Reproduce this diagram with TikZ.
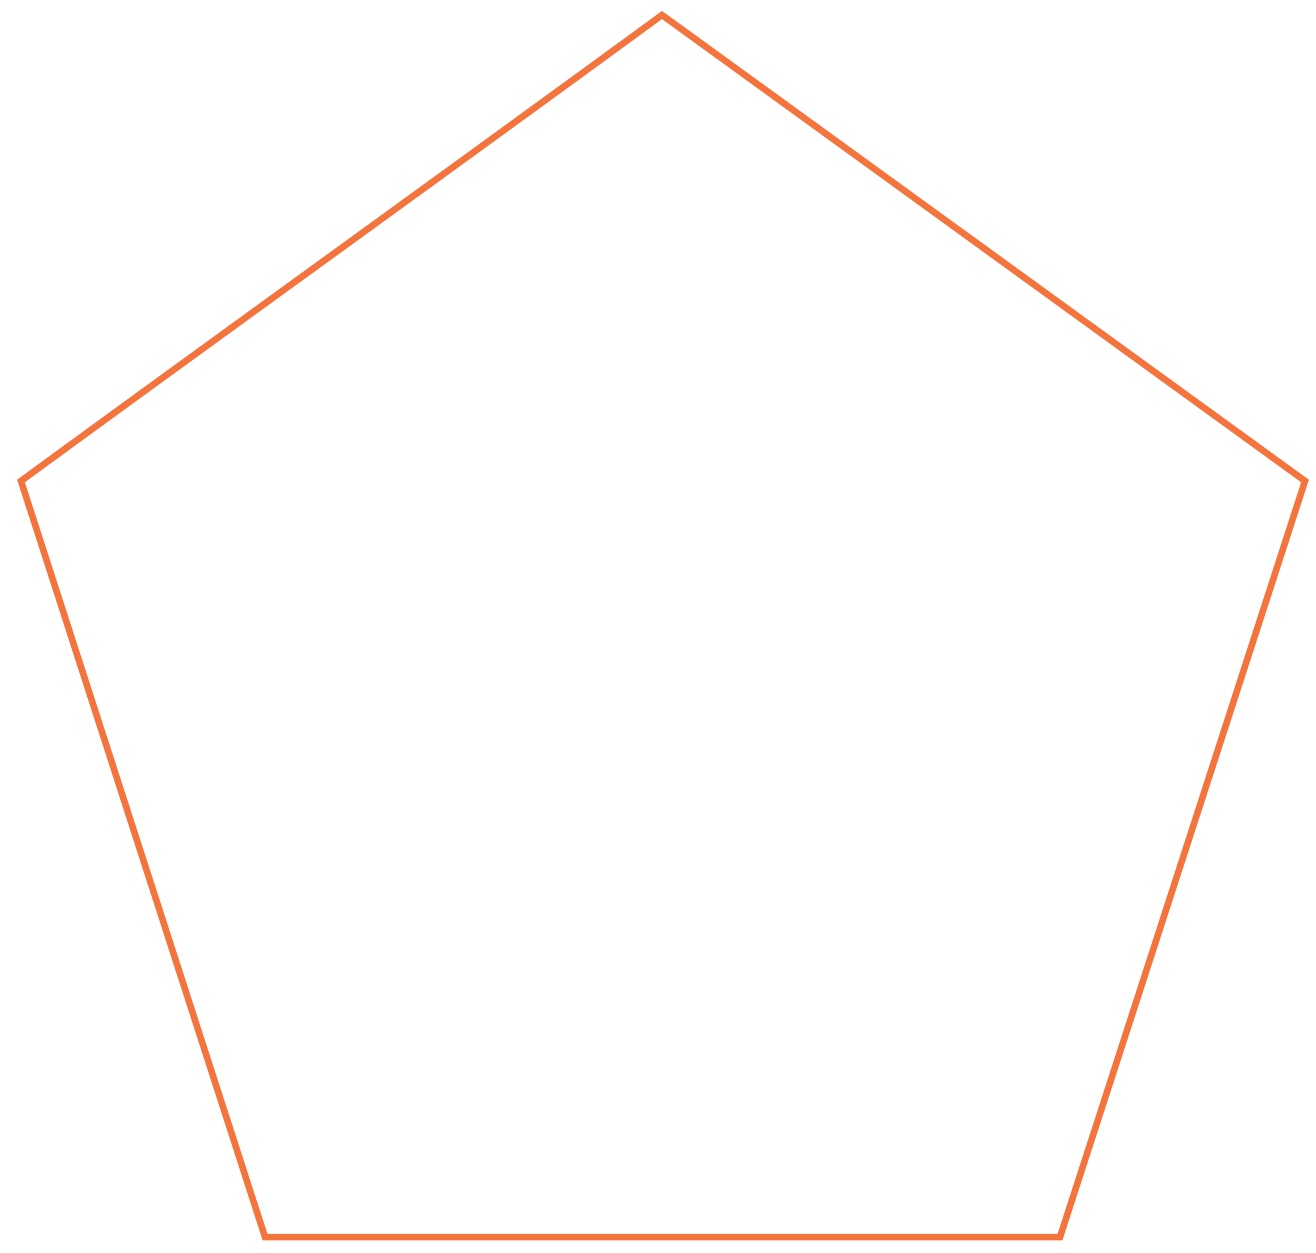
\documentclass[tikz,border=0pt]{standalone}
\definecolor{pentorange}{RGB}{245,116,62}
\tikzset{pentline/.style={draw=pentorange,line width=6.5pt,line join=miter}}
\begin{document}
\begin{tikzpicture}[x=1pt,y=-1pt]
\useasboundingbox (0,0) rectangle (1316,1252);
\coordinate (top) at (662,15);
\coordinate (right) at (1305,481);
\coordinate (br) at (1060,1237);
\coordinate (bl) at (265,1237);
\coordinate (left) at (21,481);
\draw[pentline] (top) -- (right) -- (br) -- (bl) -- (left) .. controls (200,350) and (450,170) .. cycle;
\end{tikzpicture}
\end{document}
